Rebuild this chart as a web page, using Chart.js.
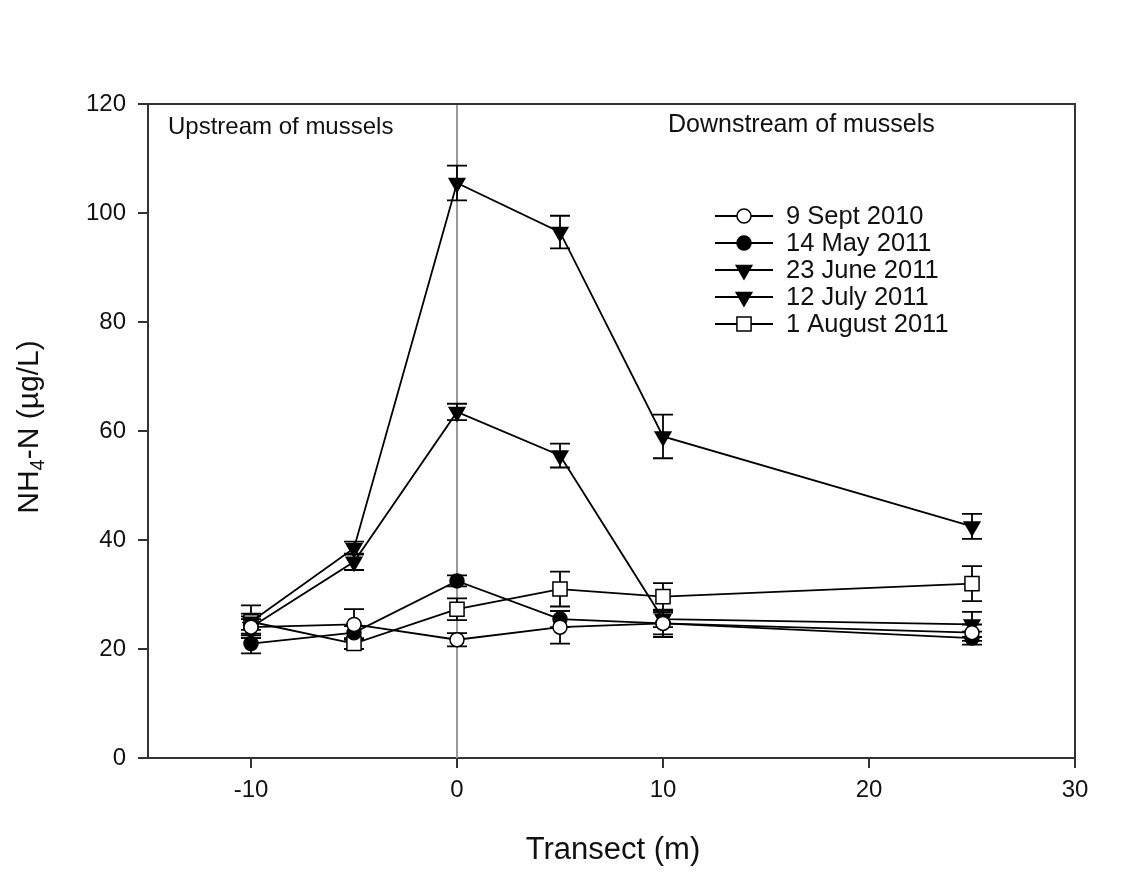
<!DOCTYPE html>
<html>
<head>
<meta charset="utf-8">
<script src="https://cdn.jsdelivr.net/npm/chart.js@4/dist/chart.umd.min.js"></script>
<style>
html,body{margin:0;padding:0;background:#fff;}
#wrap{width:1123px;height:873px;}
</style>
</head>
<body>
<div id="wrap"><canvas id="c" width="1123" height="873"></canvas></div>
<script>
const transect = [-10, -5, 0, 5, 10, 25];
const xTicks = [-10, 0, 10, 20, 30];
const yTicks = [0, 20, 40, 60, 80, 100, 120];

const sep2010 = [24, 24.5, 21.7, 24, 24.7, 23];
const sep2010Err = [1.5, 2.8, 1.2, 3, 2.5, 1.5];
const may2011 = [21, 23, 32.5, 25.5, 24.7, 22];
const may2011Err = [1.8, 1.2, 1, 1.5, 2, 1.2];
const jun2011 = [24, 36, 63.5, 55.5, 25.5, 24.5];
const jun2011Err = [2, 1.5, 1.5, 2.2, 1.5, 2.3];
const jul2011 = [25, 38.5, 105.5, 96.5, 59, 42.5];
const jul2011Err = [1.5, 1.2, 3.2, 3, 4, 2.3];
const aug2011 = [25, 21, 27.3, 31, 29.6, 32];
const aug2011Err = [3, 1, 2, 3.2, 2.5, 3.2];

const seriesLabels = ['9 Sept 2010', '14 May 2011', '23 June 2011', '12 July 2011', '1 August 2011'];
const FONT = '"Liberation Sans", Arial, sans-serif';

function pts(vals) { return transect.map((x, i) => ({x: x, y: vals[i]})); }

const styles = [
  {pointStyle: 'circle', radius: 7, rotation: 0, fill: '#fff'},
  {pointStyle: 'circle', radius: 7, rotation: 0, fill: '#000'},
  {pointStyle: 'triangle', radius: 9, rotation: 180, fill: '#000'},
  {pointStyle: 'triangle', radius: 9, rotation: 180, fill: '#000'},
  {pointStyle: 'rect', radius: 10, rotation: 0, fill: '#fff'}
];
const values = [sep2010, may2011, jun2011, jul2011, aug2011];
const errors = [sep2010Err, may2011Err, jun2011Err, jul2011Err, aug2011Err];

const datasets = values.map((v, i) => ({
  label: seriesLabels[i],
  data: pts(v),
  errors: errors[i],
  borderColor: '#000',
  borderWidth: 1.8,
  pointStyle: styles[i].pointStyle,
  pointRadius: styles[i].radius,
  pointRotation: styles[i].rotation,
  pointBackgroundColor: styles[i].fill,
  pointBorderColor: '#000',
  pointBorderWidth: 1.5,
  tension: 0,
  fill: false
}));

const framePlugin = {
  id: 'frame',
  beforeDatasetsDraw(chart) {
    const {ctx, chartArea: a, scales} = chart;
    const x0 = scales.x.getPixelForValue(0);
    ctx.save();
    ctx.strokeStyle = '#999';
    ctx.lineWidth = 2;
    ctx.beginPath();
    ctx.moveTo(x0, a.top);
    ctx.lineTo(x0, a.bottom);
    ctx.stroke();
    ctx.strokeStyle = '#000';
    ctx.lineWidth = 1.8;
    chart.data.datasets.forEach(ds => {
      ds.data.forEach((p, i) => {
        const e = ds.errors[i];
        const px = scales.x.getPixelForValue(p.x);
        const yt = scales.y.getPixelForValue(p.y + e);
        const yb = scales.y.getPixelForValue(p.y - e);
        ctx.beginPath();
        ctx.moveTo(px, yt); ctx.lineTo(px, yb);
        ctx.moveTo(px - 10, yt); ctx.lineTo(px + 10, yt);
        ctx.moveTo(px - 10, yb); ctx.lineTo(px + 10, yb);
        ctx.stroke();
      });
    });
    ctx.restore();
  },
  afterDraw(chart) {
    const {ctx, chartArea: a} = chart;
    ctx.save();
    ctx.strokeStyle = '#333';
    ctx.lineWidth = 2;
    ctx.beginPath();
    ctx.moveTo(a.left, a.top);
    ctx.lineTo(a.right, a.top);
    ctx.lineTo(a.right, a.bottom);
    ctx.stroke();

    ctx.fillStyle = '#111';
    ctx.textBaseline = 'alphabetic';
    ctx.textAlign = 'left';
    ctx.font = '24px ' + FONT;
    ctx.fillText('Upstream of mussels', 168, 134);
    ctx.font = '25px ' + FONT;
    ctx.fillText('Downstream of mussels', 668, 132);

    const lx0 = 715, lx1 = 773, lm = 744, ty0 = 216, dy = 27;
    ctx.font = '25.5px ' + FONT;
    ctx.textBaseline = 'middle';
    chart.data.datasets.forEach((ds, i) => {
      const y = ty0 + i * dy;
      ctx.strokeStyle = '#000';
      ctx.lineWidth = 1.8;
      ctx.beginPath();
      ctx.moveTo(lx0, y); ctx.lineTo(lx1, y);
      ctx.stroke();
      ctx.fillStyle = ds.pointBackgroundColor;
      ctx.strokeStyle = '#000';
      ctx.lineWidth = 1.5;
      Chart.helpers.drawPoint(ctx, {pointStyle: ds.pointStyle, radius: ds.pointRadius, rotation: ds.pointRotation, borderWidth: 1.5}, lm, y);
      ctx.fillStyle = '#111';
      ctx.fillText(ds.label, 786, y + 1);
    });

    ctx.textAlign = 'center';
    ctx.textBaseline = 'middle';
    ctx.font = '31px ' + FONT;
    ctx.fillText('Transect (m)', 613, 850);

    ctx.translate(30, 427);
    ctx.rotate(-Math.PI / 2);
    const big = '30px ' + FONT, small = '20px ' + FONT;
    const parts = [['NH', big, 0], ['4', small, 8], ['-N (\u00b5g/L)', big, 0]];
    let total = 0;
    parts.forEach(p => { ctx.font = p[1]; total += ctx.measureText(p[0]).width; });
    let x = -total / 2;
    ctx.textAlign = 'left';
    parts.forEach(p => {
      ctx.font = p[1];
      ctx.fillText(p[0], x, p[2]);
      x += ctx.measureText(p[0]).width;
    });
    ctx.restore();
  }
};

new Chart(document.getElementById('c'), {
  type: 'line',
  data: {datasets: datasets},
  plugins: [framePlugin],
  options: {
    responsive: false,
    animation: false,
    layout: {padding: {left: 0, top: 104, right: 48, bottom: 0}},
    plugins: {legend: {display: false}, tooltip: {enabled: false}},
    scales: {
      x: {
        type: 'linear',
        min: -15, max: 30,
        afterBuildTicks(s) { s.ticks = xTicks.map(v => ({value: v})); },
        afterFit(s) { s.height = 873 - 104 - 654; },
        border: {display: true, color: '#333', width: 2},
        grid: {drawOnChartArea: false, drawTicks: true, tickLength: 10, color: '#333', lineWidth: 2},
        ticks: {color: '#111', font: {family: FONT, size: 24}, padding: 8, maxRotation: 0}
      },
      y: {
        type: 'linear',
        min: 0, max: 120,
        afterBuildTicks(s) { s.ticks = yTicks.map(v => ({value: v})); },
        afterFit(s) { s.width = 148; },
        border: {display: true, color: '#333', width: 2},
        grid: {drawOnChartArea: false, drawTicks: true, tickLength: 10, color: '#333', lineWidth: 2},
        ticks: {color: '#111', font: {family: FONT, size: 24}, padding: 12}
      }
    }
  }
});
</script>
</body>
</html>
